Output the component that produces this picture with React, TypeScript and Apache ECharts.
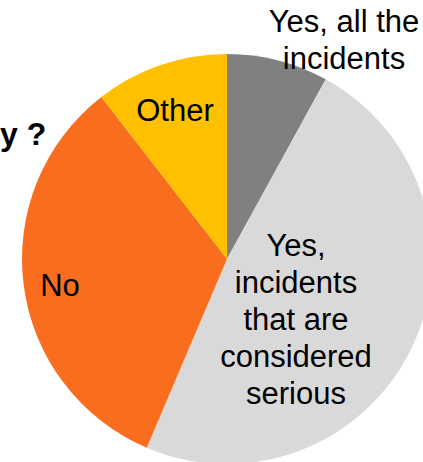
import React, { useEffect, useRef } from "react";
import * as echarts from "echarts";

const categories = [
  "Yes, all the incidents",
  "Yes, incidents that are considered serious",
  "No",
  "Other",
];
const values = [8, 48.4, 33.1, 10.5];
const colors = ["#808080", "#D9D9D9", "#F96D1F", "#FFC000"];

export default function App() {
  const ref = useRef<HTMLDivElement>(null);
  useEffect(() => {
    if (!ref.current) return;
    const chart = echarts.init(ref.current, null, { renderer: "svg" });
    const font = "'Liberation Sans', Arial, sans-serif";
    const txt = (text: string, x: number, y: number, extra: any = {}) => ({
      type: "text",
      x,
      y,
      z: 100,
      style: {
        text,
        fontFamily: font,
        fontSize: 31,
        lineHeight: 37,
        fill: "#000",
        align: "center",
        verticalAlign: "middle",
        ...extra,
      },
    });
    chart.setOption({
      animation: false,
      backgroundColor: "#fff",
      series: [
        {
          type: "pie",
          center: [227, 259],
          radius: 205,
          startAngle: 90,
          clockwise: true,
          label: { show: false },
          labelLine: { show: false },
          emphasis: { disabled: true },
          itemStyle: { borderWidth: 0 },
          data: categories.map((name, i) => ({
            name,
            value: values[i],
            itemStyle: { color: colors[i] },
          })),
        },
      ],
      graphic: [
        txt("Yes, all the\nincidents", 344, 40),
        txt("Other", 175, 110),
        txt("No", 60, 285),
        txt("Yes,\nincidents\nthat are\nconsidered\nserious", 296, 319),
        txt("y ?", 0, 134, { align: "left", fontWeight: "bold", fontSize: 32 }),
      ],
    });
    return () => chart.dispose();
  }, []);
  return (
    <div
      ref={ref}
      style={{ position: "fixed", left: 0, top: 0, width: 423, height: 462 }}
    />
  );
}
